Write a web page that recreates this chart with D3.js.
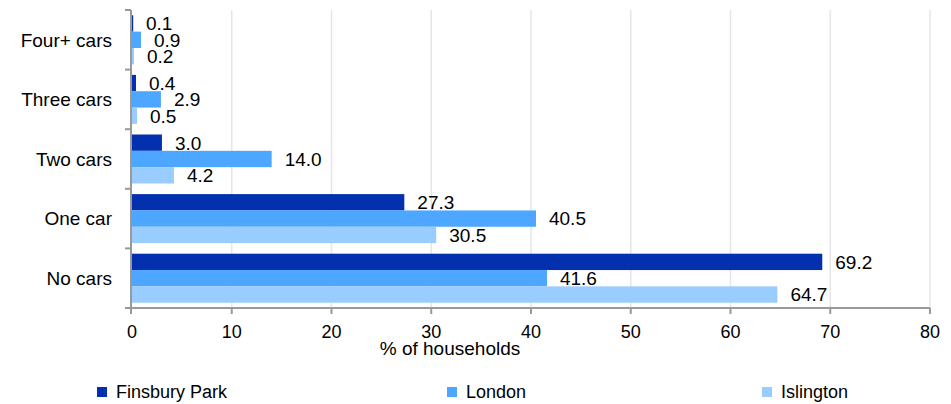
<!DOCTYPE html>
<html><head><meta charset="utf-8">
<script src="https://cdn.jsdelivr.net/npm/d3@7"></script>
<style>body{margin:0;background:#fff}svg{display:block;font-family:"Liberation Sans",Arial,sans-serif}</style>
</head><body><svg id="c" width="951" height="404"></svg>
<script>
const categories = ["Four+ cars","Three cars","Two cars","One car","No cars"];
const seriesNames = ["Finsbury Park","London","Islington"];
const finsburyPark = [0.1, 0.4, 3.0, 27.3, 69.2];
const london = [0.9, 2.9, 14.0, 40.5, 41.6];
const islington = [0.2, 0.5, 4.2, 30.5, 64.7];
const xTicks = [0,10,20,30,40,50,60,70,80];
const colors = ["#0330AE","#4DA6FF","#99CCFF"];
const seriesValues = [finsburyPark, london, islington];

const svg = d3.select("#c");
const x = d3.scaleLinear().domain([0,80]).range([132,930]);
const y = d3.scaleBand().domain(categories).range([10,308]).paddingInner(0.178).paddingOuter(0.089);
const ys = d3.scaleBand().domain(seriesNames).range([0,y.bandwidth()]);
const bandEdges = d3.range(categories.length+1).map(i => 10 + i*(298/categories.length));

// gridlines
svg.append("g").selectAll("line").data(xTicks.filter(d=>d>0)).join("line")
  .attr("x1",d=>x(d)).attr("x2",d=>x(d)).attr("y1",10).attr("y2",308)
  .attr("stroke","#e6e6e6").attr("stroke-width",1.5);

// axes
const axisColor = "#999";
svg.append("line").attr("x1",x(0)-1).attr("x2",x(80)).attr("y1",308).attr("y2",308).attr("stroke",axisColor).attr("stroke-width",2);
svg.append("line").attr("x1",x(0)-1).attr("x2",x(0)-1).attr("y1",10).attr("y2",309).attr("stroke",axisColor).attr("stroke-width",2);
svg.append("g").selectAll("line").data(xTicks).join("line")
  .attr("x1",d=>x(d)-(d===0?1:0)).attr("x2",d=>x(d)-(d===0?1:0)).attr("y1",308).attr("y2",314).attr("stroke",axisColor).attr("stroke-width",2);
svg.append("g").selectAll("line").data(bandEdges).join("line")
  .attr("x1",125).attr("x2",x(0)-1).attr("y1",d=>d).attr("y2",d=>d).attr("stroke",axisColor).attr("stroke-width",2);

// bars
seriesNames.forEach((s,si)=>{
  const g = svg.append("g");
  g.selectAll("rect").data(categories).join("rect")
    .attr("x",x(0)).attr("y",(c)=>y(c)+ys(s))
    .attr("width",(c,i)=>Math.max(1.2,x(seriesValues[si][i])-x(0)))
    .attr("height",ys.bandwidth()).attr("fill",colors[si]);
  g.selectAll("text").data(categories).join("text")
    .attr("x",(c,i)=>x(seriesValues[si][i])+13)
    .attr("y",(c)=>y(c)+ys(s)+ys.bandwidth()/2)
    .attr("dy","0.36em").attr("font-size",19).attr("fill","#000")
    .text((c,i)=>d3.format(".1f")(seriesValues[si][i]));
});

svg.append("g").selectAll("text").data(xTicks).join("text")
  .attr("x",d=>x(d)).attr("y",338).attr("text-anchor","middle").attr("font-size",18).text(d=>d);
svg.append("g").selectAll("text").data(categories).join("text")
  .attr("x",112).attr("y",c=>y(c)+y.bandwidth()/2).attr("dy","0.36em")
  .attr("text-anchor","end").attr("font-size",19).text(c=>c);
svg.append("text").attr("x",450).attr("y",355).attr("text-anchor","middle").attr("font-size",19).text("% of households");

// legend
const legX = [97,447,762];
const leg = svg.append("g").selectAll("g").data(seriesNames).join("g")
  .attr("transform",(d,i)=>`translate(${legX[i]},387)`);
leg.append("rect").attr("width",10).attr("height",10).attr("fill",(d,i)=>colors[i]);
leg.append("text").attr("x",19).attr("y",5).attr("dy","0.36em").attr("font-size",18).text(d=>d);
</script></body></html>
